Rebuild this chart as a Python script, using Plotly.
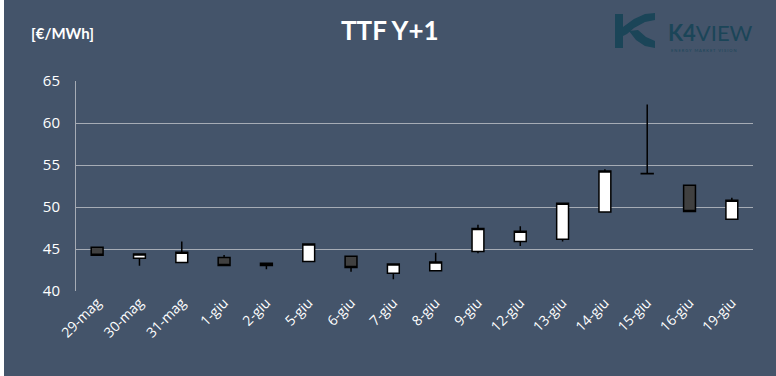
import plotly.graph_objects as go

dates = ["29-mag", "30-mag", "31-mag", "1-giu", "2-giu", "5-giu", "6-giu", "7-giu",
         "8-giu", "9-giu", "12-giu", "13-giu", "14-giu", "15-giu", "16-giu", "19-giu"]
open_ = [45.2, 43.9, 43.4, 44.0, 43.05, 43.5, 44.15, 42.1, 42.4, 44.7, 45.9, 46.15, 49.4, 53.95, 52.6, 48.55]
close = [44.25, 44.4, 44.6, 43.05, 43.3, 45.6, 42.8, 43.2, 43.45, 47.45, 47.1, 50.45, 54.3, 54.0, 49.45, 50.8]
high = [45.2, 44.4, 45.9, 44.3, 43.3, 45.6, 44.15, 43.2, 44.55, 47.9, 47.7, 50.45, 54.5, 62.2, 52.6, 51.1]
low = [44.25, 43.0, 43.4, 43.0, 42.6, 43.5, 42.3, 41.4, 42.4, 44.5, 45.35, 45.9, 49.4, 53.95, 49.45, 48.55]
y_ticks = [40, 45, 50, 55, 60, 65]

W, H = 776, 376
L, R, T, B = 76, 23, 81, 85
PW, PH = W - L - R, H - T - B

def px(x):
    return (x - L) / PW

def py(y):
    return (H - B - y) / PH

BG = "#44546A"
LOGO = "#1B4558"

fig = go.Figure(go.Candlestick(
    x=dates, open=open_, high=high, low=low, close=close,
    increasing=dict(fillcolor="#FFFFFF", line=dict(color="#000000", width=1.5)),
    decreasing=dict(fillcolor="#404040", line=dict(color="#000000", width=1.5)),
    whiskerwidth=0, showlegend=False,
))

def poly(pts):
    return "M " + " L ".join(f"{px(a):.5f},{py(b):.5f}" for a, b in pts) + " Z"

shapes = [
    dict(type="rect", xref="paper", yref="paper", x0=px(0), x1=px(4), y0=py(H), y1=py(0),
         fillcolor="#FFFFFF", line=dict(width=0), layer="below"),
    dict(type="path", xref="paper", yref="paper", path=poly([(615, 14), (623, 14), (623, 48), (615, 48)]),
         fillcolor=LOGO, line=dict(width=0)),
    dict(type="path", xref="paper", yref="paper",
         path=poly([(623, 27), (634, 19), (645, 14), (655, 13), (655, 20), (645, 22), (634, 28), (627, 34), (623, 36)]),
         fillcolor=LOGO, line=dict(width=0)),
    dict(type="path", xref="paper", yref="paper",
         path=poly([(629, 31), (638, 30), (646, 37), (655, 41), (655, 48), (645, 46), (636, 40)]),
         fillcolor=LOGO, line=dict(width=0)),
]

fig.update_layout(
    width=W, height=H,
    margin=dict(l=L, r=R, t=T, b=B),
    paper_bgcolor=BG, plot_bgcolor=BG,
    boxgap=0.6,
    font=dict(family="Open Sans, sans-serif", color="#FFFFFF"),
    xaxis=dict(type="category", rangeslider=dict(visible=False), showgrid=False,
               tickangle=-45, tickfont=dict(size=14, color="#FFFFFF"),
               showline=False, zeroline=False, ticks=""),
    yaxis=dict(range=[40, 65], tickvals=y_ticks, showgrid=True, gridcolor="#A6ACB5", gridwidth=1,
               tickfont=dict(size=15, color="#FFFFFF"), showline=True, linecolor="#A6ACB5",
               linewidth=1, zeroline=False, ticks="", ticklabelstandoff=12),
    annotations=[
        dict(text="<b>TTF Y+1</b>", xref="paper", yref="paper", x=px(390), y=py(30),
             xanchor="center", yanchor="middle", showarrow=False,
             font=dict(size=26, color="#FFFFFF", family="Lato, sans-serif")),
        dict(text="<b>[€/MWh]</b>", xref="paper", yref="paper", x=px(29), y=py(33),
             xanchor="left", yanchor="middle", showarrow=False,
             font=dict(size=15, color="#FFFFFF", family="Lato, sans-serif")),
        dict(text="<b>K4</b>VIEW", xref="paper", yref="paper", x=px(666), y=py(33),
             xanchor="left", yanchor="middle", showarrow=False,
             font=dict(size=22, color=LOGO, family="Lato, sans-serif")),
        dict(text="E N E R G Y   M A R K E T   V I S I O N", xref="paper", yref="paper", x=px(669), y=py(46),
             xanchor="left", yanchor="top", showarrow=False,
             font=dict(size=4, color=LOGO, family="Lato, sans-serif")),
    ],
    shapes=shapes,
)

fig.write_html("out.html", config={"displayModeBar": False},
               post_script="document.body.style.margin='0';document.body.style.overflow='hidden';")
